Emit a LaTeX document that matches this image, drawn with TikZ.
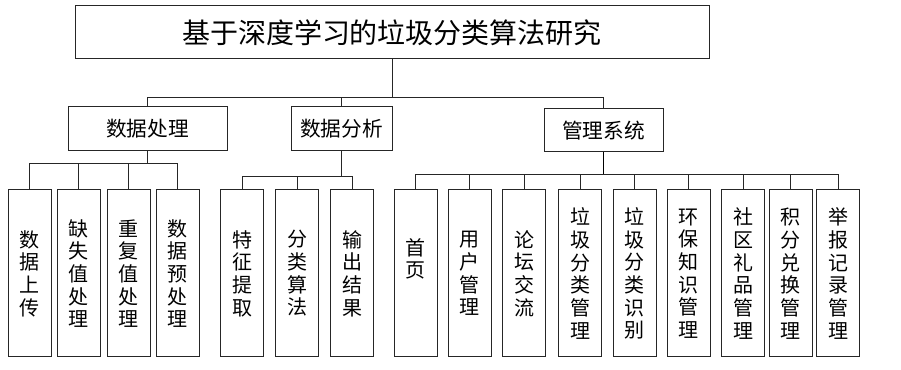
\documentclass[tikz,border=0pt]{standalone}
\usepackage{fontspec}
\setmainfont{Noto Sans CJK SC}
\begin{document}
\begin{tikzpicture}[x=0.75pt,y=-0.75pt,
  box/.style={draw=black!85,line width=0.75pt,inner sep=0pt,align=center},
  titlebox/.style={box,minimum width=475.5pt,minimum height=39.75pt,font=\fontsize{21}{24}\selectfont},
  midbox/.style={box,minimum height=33pt,font=\fontsize{15.5}{18}\selectfont},
  vbox/.style={box,minimum width=32.25pt,minimum height=125.25pt,font=\fontsize{15}{17}\selectfont},
  vtext/.style={inner sep=0pt,align=center,font=\fontsize{15}{17}\selectfont},
  conn/.style={line width=0.75pt,draw=black!85},
  boldconn/.style={line width=1.3pt,draw=black}]
\useasboundingbox (0,0) rectangle (901,370);
% title
\node[titlebox] (T) at (392,32.5) {基于深度学习的垃圾分类算法研究};
% level 2
\node[midbox,minimum width=119.25pt] (dp) at (147.5,129) {数据处理};
\node[midbox,minimum width=75.75pt] (da) at (341.5,129) {数据分析};
\node[midbox,minimum width=89.25pt,minimum height=32.25pt] (mg) at (603.5,130.5) {管理系统};
% level 3: data processing
\node[vbox] (p1) at (29.5,273.5) {数\\据\\上\\传};
\node[vbox] (p2) at (78.5,273.5) {缺\\失\\值\\处\\理};
\node[vbox] (p3) at (128.5,273.5) {重\\复\\值\\处\\理};
\node[vbox] (p4) at (177.5,273.5) {数\\据\\预\\处\\理};
% level 3: data analysis
\node[vbox] (a1) at (242,273.5) {特\\征\\提\\取};
\node[vbox] (a2) at (297,273.5) {分\\类\\算\\法};
\node[vbox] (a3) at (352,273.5) {输\\出\\结\\果};
% level 3: management
\node[vbox] (m1) at (415.5,273.5) {};
\node[vtext] (m1t) at (415.5,259) {首\\页};
\node[vbox] (m2) at (469.5,273.5) {用\\户\\管\\理};
\node[vbox] (m3) at (524,273.5) {论\\坛\\交\\流};
\node[vbox] (m4) at (580,273.5) {垃\\圾\\分\\类\\管\\理};
\node[vbox] (m5) at (634.5,273.5) {垃\\圾\\分\\类\\识\\别};
\node[vbox] (m6) at (688.5,273.5) {环\\保\\知\\识\\管\\理};
\node[vbox] (m7) at (743,273.5) {社\\区\\礼\\品\\管\\理};
\node[vbox] (m8) at (790.5,273.5) {积\\分\\兑\\换\\管\\理};
\node[vbox] (m9) at (838,273.5) {举\\报\\记\\录\\管\\理};
% bus coordinates
\coordinate (b1) at (0,98);
\coordinate (b2) at (0,164);
\coordinate (b3) at (0,177);
\coordinate (b4) at (0,175);
% connectors level 1-2
\draw[conn] (T.south) -- (T.south |- b1);
\draw[conn] (dp.north) -- (dp.north |- b1) -- (mg.north |- b1) -- (mg.north);
\draw[conn] (da.north) -- (da.north |- b1);
% data processing
\draw[conn] (dp.south) -- (dp.south |- b2);
\draw[conn] (p1.north) -- (p1.north |- b2) -- (p4.north |- b2) -- (p4.north);
\foreach \n in {p2,p3} \draw[conn] (\n.north) -- (\n.north |- b2);
% data analysis
\draw[conn] (da.south) -- (da.south |- b3);
\draw[conn] (a1.north) -- (a1.north |- b3) -- (a3.north |- b3) -- (a3.north);
\draw[conn] (a2.north) -- (a2.north |- b3);
% management
\draw[boldconn] (mg.south) -- (mg.south |- b4);
\draw[conn] (m1.north) -- (m1.north |- b4) -- (m9.north |- b4) -- (m9.north);
\foreach \n in {m2,m3,m4,m5,m6,m7,m8} \draw[conn] (\n.north) -- (\n.north |- b4);
\end{tikzpicture}
\end{document}
